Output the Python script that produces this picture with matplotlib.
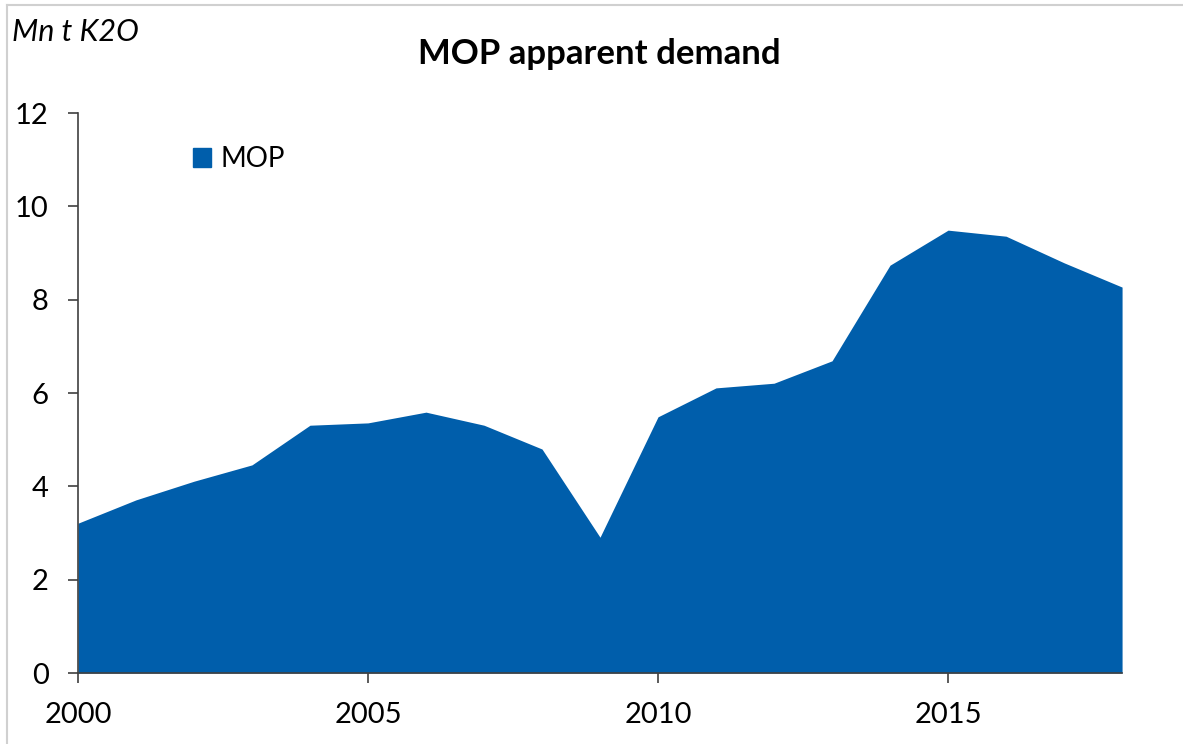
import matplotlib.pyplot as plt
from matplotlib.lines import Line2D
from matplotlib.patches import Patch

plt.rcParams['font.family'] = ['Lato', 'DejaVu Sans']

years = list(range(2000, 2019))
mop = [3.21, 3.71, 4.11, 4.46, 5.31, 5.36, 5.59, 5.31, 4.80, 2.91,
       5.49, 6.11, 6.21, 6.69, 8.74, 9.49, 9.36, 8.79, 8.27]

blue = "#005EAB"

fig = plt.figure(figsize=(11.83, 7.44), dpi=100)
ax = fig.add_axes([0.0659, 0.0954, 0.8826, 0.7527])

ax.fill_between(years, mop, 0, color=blue, linewidth=0, label="MOP")

ax.set_xlim(2000, 2018)
ax.set_ylim(0, 12)
ax.set_xticks([2000, 2005, 2010, 2015])
ax.set_yticks(range(0, 13, 2))
ax.tick_params(axis='both', labelsize=21, length=7, width=1.2,
               color="#404040")
ax.tick_params(axis='x', pad=14)
ax.tick_params(axis='y', pad=14)
for side in ["top", "right"]:
    ax.spines[side].set_visible(False)
for side in ["left", "bottom"]:
    ax.spines[side].set_color("#404040")
    ax.spines[side].set_linewidth(1.2)

ax.legend(handles=[Patch(color=blue, label="MOP")], loc="upper left",
          bbox_to_anchor=(0.086, 0.985), frameon=False, fontsize=20,
          handlelength=0.65, handleheight=0.65, handletextpad=0.35)

fig.text(0.507, 0.928, "MOP apparent demand", ha="center", va="center",
         fontsize=25, fontweight="bold")
fig.text(0.010, 0.957, "Mn t K2O", ha="left", va="center",
         fontsize=22, style="italic")

# light gray chart border (top and left visible)
fig.add_artist(Line2D([0.006, 1.0], [0.993, 0.993], color="#d0d0d0", lw=1.5))
fig.add_artist(Line2D([0.006, 0.006], [0.0, 0.993], color="#d0d0d0", lw=1.5))

fig.savefig("out.png", dpi=100)
